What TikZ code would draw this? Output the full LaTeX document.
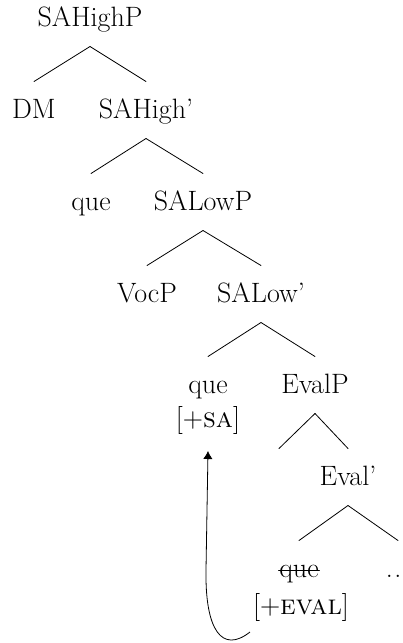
\documentclass[tikz,border=0pt]{standalone}
\usetikzlibrary{calc,arrows.meta}
\newcommand\tbranch[2]{\draw[edge] ($(#1.base)+(0,20.5)$) -- ($(#2.base)+(0,-36.5)$);}
\begin{document}
\begin{tikzpicture}[x=0.75pt,y=-0.75pt,
  lbl/.style={anchor=base, inner sep=0pt, font=\fontsize{21}{25}\selectfont},
  edge/.style={line width=0.6pt, line cap=round},
  mvarrow/.style={line width=0.6pt, -{Latex[length=6pt,width=7pt]}}]
\useasboundingbox (0,0) rectangle (403,643);
\node[lbl] (root) at (90,26) {SAHighP};
\node[lbl] (dm) at (34,118) {DM};
\node[lbl] (sahb) at (146,118) {SAHigh'};
\node[lbl] (que1) at (91,210) {que};
\node[lbl] (salowp) at (203,210) {SALowP};
\node[lbl] (vocp) at (147,302) {VocP};
\node[lbl] (salowb) at (261,302) {SALow'};
\node[lbl] (que2) at (208,393) {que};
\node[lbl] (sa) at (208,427) {[+\textsc{sa}]};
\node[lbl] (evalp) at (315,393) {EvalP};
\coordinate (evspec) at (279,485);
\node[lbl] (evalb) at (348,485) {Eval'};
\node[lbl] (que3) at (299,577) {que};
\node[lbl] (evalf) at (301,614) {[+\textsc{eval}]};
\node[lbl] (dots) at (398,577) {.\kern1.3pt.\kern1.3pt.};
\tbranch{root}{dm}
\tbranch{root}{sahb}
\tbranch{sahb}{que1}
\tbranch{sahb}{salowp}
\tbranch{salowp}{vocp}
\tbranch{salowp}{salowb}
\tbranch{salowb}{que2}
\tbranch{salowb}{evalp}
\draw[edge] ($(evalp.base)+(0,20.5)$) -- ($(evspec)+(0,-36.5)$);
\tbranch{evalp}{evalb}
\tbranch{evalb}{que3}
\tbranch{evalb}{dots}
\draw[edge] ($(que3.base west)+(-0.5,-6.5)$) -- ($(que3.base east)+(0.5,-6.5)$);
\coordinate (arrS) at (250,632);
\coordinate (arrE) at (208,451);
\draw[mvarrow] (arrS) .. controls (222,654) and (205,630) .. (206,570) -- (arrE);
\end{tikzpicture}
\end{document}
